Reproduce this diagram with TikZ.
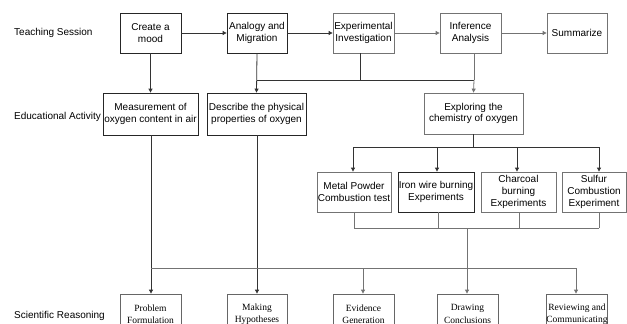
\documentclass[tikz,border=0pt]{standalone}
\usepackage{fontspec}
\setmainfont{Liberation Sans}
\newfontfamily\serifb{Liberation Serif}
\usetikzlibrary{arrows.meta,calc}
\begin{document}
\begin{tikzpicture}[x=1pt,y=-1pt,
  box/.style={draw=#1,fill=white,line width=0.8pt,align=center,inner sep=0pt,
    font=\fontsize{10}{11.6}\selectfont},
  box/.default={black!85},
  lbox/.style={box=black!55},
  sbox/.style={draw=black!60,fill=white,line width=0.8pt,align=center,inner sep=0pt,
    font=\serifb\fontsize{9.5}{12.5}\selectfont,minimum height=40pt},
  rowlabel/.style={anchor=west,inner sep=0pt,font=\fontsize{10}{12}\selectfont},
  ln/.style={draw=black!80,line width=0.8pt},
  lnl/.style={draw=black!55,line width=0.8pt},
  arr/.style={-{Triangle[length=4pt,width=4pt]}}
]
\useasboundingbox (0,0) rectangle (627,324);
\clip (0,0) rectangle (627,324);

% row labels
\node[rowlabel] (l1) at (14,33) {Teaching Session};
\node[rowlabel] (l2) at (14,117) {Educational Activity};
\node[rowlabel] (l3) at (14,316) {Scientific Reasoning};

% top row
\node[box,minimum width=61pt,minimum height=40pt] (A) at (150.5,33) {Create a\\mood};
\node[box,minimum width=60pt,minimum height=40pt] (B) at (257,33) {Analogy and\\Migration};
\node[lbox,minimum width=61pt,minimum height=40pt] (C) at (363.5,33) {Experimental\\Investigation};
\node[lbox,minimum width=61pt,minimum height=40pt] (D) at (470.5,33) {Inference\\Analysis};
\node[lbox,minimum width=60pt,minimum height=40pt] (E) at (577,33) {Summarize};

% second row
\node[box,minimum width=95pt,minimum height=42pt] (M) at (150.5,114) {Measurement of\\oxygen content in air};
\node[box,minimum width=99pt,minimum height=42pt] (P) at (256.5,114) {Describe the physical\\properties of oxygen};
\node[lbox,minimum width=99pt,minimum height=41pt] (X) at (473.5,113.5) {Exploring the\\chemistry of oxygen};

% third row
\node[lbox,minimum width=74pt,minimum height=40pt] (T1) at (354,192) {Metal Powder\\Combustion test};
\node[box,minimum width=76pt,minimum height=40pt] (T2) at (436,192) {Iron wire burning\\Experiments};
\node[lbox,minimum width=75pt,minimum height=40pt] (T3) at (518.5,192) {Charcoal\\burning\\Experiments};
\node[lbox,minimum width=64pt,minimum height=40pt] (T4) at (594,192) {Sulfur\\Combustion\\Experiment};

% bottom row
\node[sbox,minimum width=61pt] (F1) at (150.5,314) {Problem\\Formulation};
\node[sbox,minimum width=60pt] (F2) at (257,314) {Making\\Hypotheses};
\node[sbox,minimum width=61pt] (F3) at (363.5,314) {Evidence\\Generation};
\node[sbox,minimum width=61pt] (F4) at (467.5,314) {Drawing\\Conclusions};
\node[sbox,minimum width=60pt] (F5) at (577,314) {Reviewing and\\Communicating};

% junction coordinates
\coordinate (j1) at (257,80);
\coordinate (j2) at (474,80);
\coordinate (k1) at (353,147);
\coordinate (k2) at (599,147);
\coordinate (m1) at (354,228);
\coordinate (m2) at (599,228);
\coordinate (n1) at (151,268);
\coordinate (n2) at (576,268);

% top row arrows
\draw[ln,arr] (A.east) -- (B.west);
\draw[ln,arr] (B.east) -- (C.west);
\draw[lnl,arr] (C.east) -- (D.west);
\draw[lnl,arr] (D.east) -- (E.west);

% down to second row
\draw[ln,arr] (A.south) -- (M.north);
\draw[ln,arr] (B.south) -- (P.north);
\draw[ln] (j1) -- (j2);
\draw[ln] (C.south -| 360,0) -- (360,80);
\draw[lnl] (D.south -| j2) -- (j2);
\draw[lnl,arr] (j2) -- (X.north);

% exploring to experiments
\draw[ln] (X.south) -- (X.south |- k1);
\draw[ln] (k1) -- (k2);
\draw[ln,arr] (k1) -- (T1.north -| k1);
\draw[ln,arr] (437,147) -- (T2.north -| 437,0);
\draw[ln,arr] (517,147) -- (T3.north -| 517,0);
\draw[ln,arr] (k2) -- (T4.north -| k2);

% experiments join
\draw[lnl] (T1.south -| m1) -- (m1);
\draw[lnl] (T2.south -| 438,0) -- (438,228);
\draw[lnl] (T3.south -| 519,0) -- (519,228);
\draw[lnl] (T4.south -| m2) -- (m2);
\draw[lnl] (m1) -- (m2);
\draw[lnl,arr] (467,228) -- (F4.north -| 467,0);

% to scientific reasoning
\draw[ln,arr] (M.south -| n1) -- (F1.north -| n1);
\draw[ln,arr] (P.south -| 257,0) -- (F2.north -| 257,0);
\draw[lnl] (n1) -- (n2);
\draw[lnl,arr] (363,268) -- (F3.north -| 363,0);
\draw[lnl,arr] (n2) -- (F5.north -| n2);
\end{tikzpicture}
\end{document}
